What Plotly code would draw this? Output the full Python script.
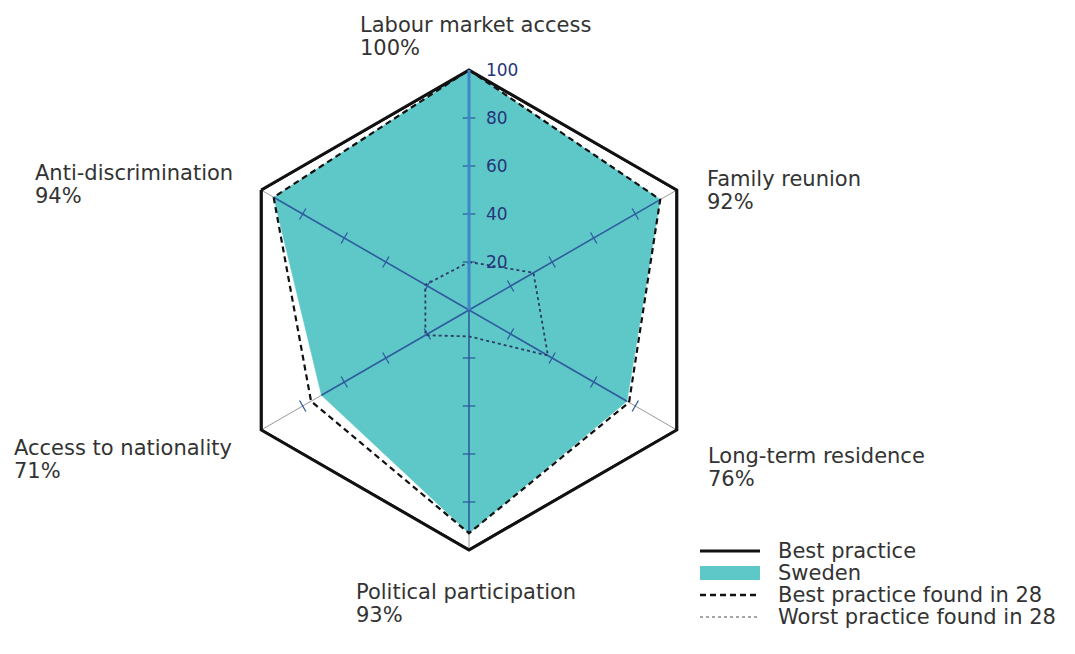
import plotly.graph_objects as go

categories = ["Labour market access", "Family reunion", "Long-term residence",
              "Political participation", "Access to nationality", "Anti-discrimination"]
best_practice = [100, 100, 100, 100, 100, 100]
sweden = [100, 92, 76, 93, 71, 94]
best_in_28 = [100, 92, 77, 93, 76, 94]
worst_in_28 = [20, 31, 38, 11, 21, 21]
radial_ticks = [20, 40, 60, 80, 100]
spoke_angles = [0, 60, 120, 180, 240, 300]

label_names = ["Labour market access", "Family reunion", "Long-term residence",
               "Political participation", "Access to nationality", "Anti-discrimination"]
label_pcts = ["100%", "92%", "76%", "93%", "71%", "94%"]
legend_names = ["Best practice", "Sweden", "Best practice found in 28", "Worst practice found in 28"]

TEAL = "#5ec8c8"
BLUE = "#2e5c9e"


def closed(v):
    return list(v) + [v[0]]


theta_c = closed(categories)
fig = go.Figure()

fig.add_trace(go.Scatterpolar(
    r=closed(sweden), theta=theta_c, fill="toself", mode="lines",
    fillcolor=TEAL, line=dict(color=TEAL, width=0.5),
    name="Sweden", showlegend=False))

for cat, v in zip(categories, sweden):
    fig.add_trace(go.Scatterpolar(
        r=[0, v], theta=[cat, cat], mode="lines",
        line=dict(color=BLUE, width=1.6), showlegend=False, hoverinfo="skip"))

for cat, ang in zip(categories, spoke_angles):
    rr = radial_ticks[:-1]
    fig.add_trace(go.Scatterpolar(
        r=rr, theta=[cat] * len(rr), mode="markers",
        marker=dict(symbol="line-ew", size=9, angle=ang,
                    line=dict(color=BLUE, width=1.3)),
        showlegend=False, hoverinfo="skip"))

fig.add_trace(go.Scatterpolar(
    r=closed(worst_in_28), theta=theta_c, mode="lines",
    line=dict(color="#2c3e66", width=1.8, dash="3px,3px"),
    name="Worst practice found in 28", showlegend=False))

fig.add_trace(go.Scatterpolar(
    r=closed(best_in_28), theta=theta_c, mode="lines", cliponaxis=False,
    line=dict(color="#111111", width=2.2, dash="6px,4px"),
    name="Best practice found in 28", showlegend=False))

fig.add_trace(go.Scatterpolar(
    r=closed(best_practice), theta=theta_c, mode="lines", cliponaxis=False,
    line=dict(color="#111111", width=3),
    name="Best practice", showlegend=False))

OFF = 8  # default page margin of the html body
W, H = 1075 - OFF, 654 - OFF
cx, cy, R = 469 - OFF, 310 - OFF, 240


def px(x):
    return (x - OFF) / W


def py(y):
    return 1 - (y - OFF) / H


fig.update_layout(
    width=W, height=H,
    margin=dict(l=0, r=0, t=0, b=0),
    paper_bgcolor="white", plot_bgcolor="white",
    font=dict(family="DejaVu Sans", color="#333333"),
    showlegend=False,
    polar=dict(
        domain=dict(x=[(cx - R) / W, (cx + R) / W], y=[(H - cy - R) / H, (H - cy + R) / H]),
        gridshape="linear",
        bgcolor="rgba(0,0,0,0)",
        angularaxis=dict(direction="clockwise", rotation=90, showticklabels=False,
                         ticks="", showgrid=True, gridcolor="#9a9a9a", gridwidth=1,
                         showline=True, linecolor="#111111", linewidth=3,
                         categoryorder="array", categoryarray=categories),
        radialaxis=dict(range=[0, 100], angle=90, side="clockwise", showgrid=False,
                        tickvals=radial_ticks, ticks="outside", ticklen=12,
                        tickcolor="rgba(0,0,0,0)", showline=True, tickangle=90,
                        linecolor="#3d86c8", linewidth=3,
                        tickfont=dict(size=17, color="#26357a", family="DejaVu Sans")),
    ),
)

FS = 21
label_pos = [(360, 25), (707, 179), (708, 456), (356, 592), (14, 448), (35, 173)]
for (x, y), nm, pc in zip(label_pos, label_names, label_pcts):
    fig.add_annotation(x=px(x - 2), y=py(y), xref="paper", yref="paper",
                       text=nm, showarrow=False, xanchor="left", yanchor="middle",
                       font=dict(size=FS, color="#333333"))
    fig.add_annotation(x=px(x - 2), y=py(y + 23), xref="paper", yref="paper",
                       text=pc, showarrow=False, xanchor="left", yanchor="middle",
                       font=dict(size=FS, color="#333333"))

rows = [551, 573, 595, 617]
lx0, lx1, tx = 700, 760, 778
styles = [dict(color="#111111", width=3), None,
          dict(color="#111111", width=2.5, dash="6px,4px"),
          dict(color="#888888", width=1.5, dash="3px,3px")]
for yrow, nm, st in zip(rows, legend_names, styles):
    if st is None:
        fig.add_shape(type="rect", xref="paper", yref="paper",
                      x0=px(lx0), x1=px(lx1), y0=py(yrow - 7), y1=py(yrow + 7),
                      fillcolor=TEAL, line=dict(width=0))
    else:
        fig.add_shape(type="line", xref="paper", yref="paper",
                      x0=px(lx0), x1=px(lx1), y0=py(yrow), y1=py(yrow), line=st)
    fig.add_annotation(x=px(tx - 2), y=py(yrow), xref="paper", yref="paper",
                       text=nm, showarrow=False, xanchor="left", yanchor="middle",
                       font=dict(size=FS, color="#333333"))

fig.write_html("out.html")
